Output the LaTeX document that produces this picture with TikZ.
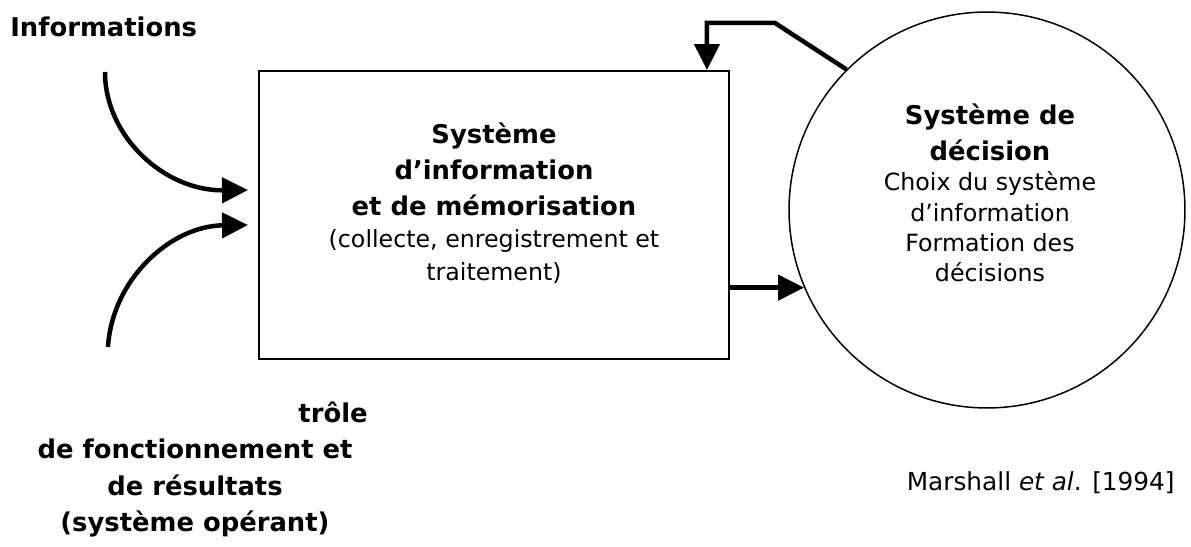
\documentclass[tikz,border=0pt]{standalone}
\usepackage{fontspec}
\setmainfont{DejaVu Sans}
\usepackage{tikz}
\usetikzlibrary{arrows.meta,positioning,calc}
\newcommand{\normaltexte}{\mdseries\fontsize{13.5}{17.5}\selectfont}

\begin{document}
\begin{tikzpicture}[x=0.02cm, y=-0.02cm,
    flow/.style={line width=0.09cm, -{Triangle[length=0.52cm, width=0.5cm]}},
    titre/.style={font=\fontsize{14.7}{20.5}\selectfont\bfseries, align=center, inner sep=0pt},
    texte/.style={font=\fontsize{14.1}{17.5}\selectfont, align=center, inner sep=0pt}]
  \useasboundingbox (0,0) rectangle (1191,547);
  \node [draw, line width=0.04cm, minimum width=9.4cm, minimum height=5.76cm] (box) at (494,215) {};
  \node [draw, circle, line width=0.03cm, minimum size=7.92cm] (decision) at (987,210) {};
  \node [titre] (boxlabel) at (494,203) {Système\\ d’information\\ et de mémorisation\\[-2pt]
    \normaltexte (collecte, enregistrement et\\[-2pt] \normaltexte traitement)};
  \node [titre] (decisionlabel) at (990,193) {Système de\\ décision\\[-3.2pt] \normaltexte Choix du système\\[-3.2pt]
    \normaltexte d’information\\[-3.2pt] \normaltexte Formation des\\[-3.2pt] \normaltexte décisions};
  \node [titre, anchor=base west] (infos) at (10,37) {Informations};
  \node [titre, anchor=base east] (trole) at (368,422) {trôle};
  \node [titre, font=\fontsize{14.7}{21}\selectfont\bfseries] (controle) at (195,488) {de fonctionnement et\\ de résultats\\ (système opérant)};
  \node [texte, anchor=base east] (source) at (1175,490) {Marshall \textit{et al}. [1994]};
  \coordinate (infoStart) at (105,72);
  \coordinate (infoTip) at (248,190);
  \coordinate (ctrlStart) at (108,347);
  \coordinate (ctrlTip) at (248,225);
  \coordinate (fbBend) at (775,23);
  \draw [flow] (infoStart) .. controls (105,137) and (165,191) .. (infoTip);
  \draw [flow] (ctrlStart) .. controls (112,280) and (170,226) .. (ctrlTip);
  \draw [flow] (decision.135) -- (fbBend) -| ($(box.north east)+(-23,0)$);
  \draw [flow] (box.east |- decision.203) -- (decision.203);
\end{tikzpicture}
\end{document}
